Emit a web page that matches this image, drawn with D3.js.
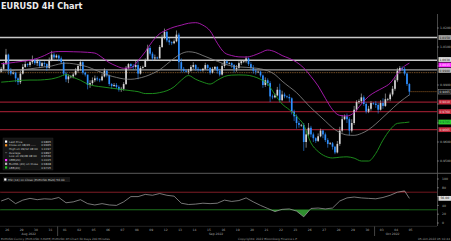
<!DOCTYPE html>
<html>
<head>
<meta charset="utf-8">
<script src="https://cdn.jsdelivr.net/npm/d3@7"></script>
<style>
html, body { margin: 0; padding: 0; background: #000; }
svg { display: block; font-family: "DejaVu Sans", sans-serif; }
</style>
</head>
<body>
<div id="chart"></div>
<script>
// day labels on the time axis, one per trading day
const dayLabels = ["26","29","30","31","01","02","05","06","07","08","09","12","13","14","15","16",
  "19","20","21","22","23","26","27","28","29","30","03","04","05"];
const months = ["Aug 2022", "Sep 2022", "Oct 2022"];
const monthFirstDay = [0, 4, 26];

// 4H candles, open of each bar is previous close
const firstOpen = 0.9970;
const closes = [
  0.9985,1.0010,1.0060,0.9975,0.9960,0.9965, 0.9935,0.9915,0.9960,0.9995,1.0010,1.0005,
  1.0020,1.0030,1.0015,1.0025,1.0000,1.0015, 1.0010,0.9990,1.0030,1.0060,1.0045,1.0055,
  1.0040,1.0020,0.9960,0.9930,0.9945,0.9945, 0.9955,0.9975,1.0000,1.0020,0.9965,0.9955,
  0.9900,0.9910,0.9925,0.9935,0.9930,0.9925, 0.9945,0.9975,0.9950,0.9905,0.9895,0.9900,
  0.9890,0.9875,0.9880,0.9905,0.9990,1.0010, 1.0000,0.9995,1.0005,0.9960,0.9990,0.9995,
  1.0030,1.0095,1.0065,1.0040,1.0045,1.0040, 1.0100,1.0150,1.0180,1.0135,1.0125,1.0120,
  1.0130,1.0165,1.0020,0.9985,0.9975,0.9970, 0.9975,0.9995,1.0005,0.9985,0.9980,0.9978,
  0.9985,1.0005,0.9990,0.9965,0.9985,0.9995, 0.9975,0.9955,1.0000,1.0025,1.0015,1.0015,
  1.0005,0.9985,0.9990,1.0015,1.0025,1.0025, 1.0040,1.0010,0.9990,0.9975,0.9970,0.9970,
  0.9950,0.9900,0.9925,0.9910,0.9840,0.9835, 0.9845,0.9875,0.9820,0.9850,0.9840,0.9837,
  0.9830,0.9760,0.9735,0.9700,0.9690,0.9690, 0.9600,0.9640,0.9675,0.9640,0.9620,0.9606,
  0.9630,0.9660,0.9640,0.9610,0.9590,0.9593, 0.9575,0.9545,0.9590,0.9660,0.9720,0.9735,
  0.9720,0.9660,0.9700,0.9770,0.9810,0.9815, 0.9835,0.9800,0.9760,0.9775,0.9805,0.9802,
  0.9795,0.9770,0.9805,0.9790,0.9825,0.9825, 0.9850,0.9880,0.9925,0.9975,0.9990,0.9985,
  0.9960,0.9905,0.9865
];
const highs = [
  0.9995,1.0020,1.0090,1.0065,0.9990,0.9972, 0.9970,0.9940,0.9975,1.0010,1.0030,1.0015,
  1.0030,1.0055,1.0040,1.0035,1.0030,1.0022, 1.0025,1.0015,1.0045,1.0080,1.0070,1.0062,
  1.0060,1.0050,1.0025,0.9970,0.9955,0.9952, 0.9965,0.9990,1.0010,1.0033,1.0025,0.9970,
  0.9935,0.9925,0.9940,0.9950,0.9945,0.9935, 0.9960,0.9988,0.9980,0.9955,0.9910,0.9910,
  0.9910,0.9898,0.9890,0.9915,1.0000,1.0015, 1.0015,1.0010,1.0030,1.0029,1.0000,1.0002,
  1.0040,1.0112,1.0105,1.0075,1.0060,1.0050, 1.0110,1.0165,1.0197,1.0185,1.0150,1.0130,
  1.0140,1.0187,1.0175,1.0040,0.9995,0.9980, 0.9985,1.0005,1.0020,1.0010,0.9995,0.9985,
  0.9990,1.0017,1.0010,0.9995,0.9995,1.0000, 1.0000,0.9985,1.0015,1.0036,1.0030,1.0020,
  1.0020,1.0010,1.0005,1.0025,1.0029,1.0028, 1.0051,1.0045,1.0020,1.0005,0.9985,0.9975,
  0.9975,0.9955,0.9940,0.9935,0.9920,0.9850, 0.9855,0.9890,0.9907,0.9870,0.9860,0.9845,
  0.9852,0.9835,0.9770,0.9745,0.9712,0.9695, 0.9700,0.9660,0.9700,0.9685,0.9650,0.9625,
  0.9645,0.9670,0.9665,0.9650,0.9620,0.9600, 0.9600,0.9580,0.9605,0.9680,0.9740,0.9745,
  0.9750,0.9730,0.9720,0.9790,0.9820,0.9825, 0.9855,0.9845,0.9810,0.9790,0.9815,0.9810,
  0.9815,0.9805,0.9820,0.9830,0.9855,0.9832, 0.9860,0.9895,0.9940,0.9990,1.0000,0.9998,
  0.9995,0.9965,0.9910
];
const lows = [
  0.9965,0.9980,1.0005,0.9955,0.9950,0.9955, 0.9915,0.9900,0.9905,0.9955,0.9990,0.9995,
  0.9995,1.0010,1.0005,1.0000,0.9990,0.9995, 0.9995,0.9975,0.9985,1.0025,1.0035,1.0040,
  1.0025,1.0010,0.9950,0.9915,0.9910,0.9935, 0.9935,0.9950,0.9965,0.9975,0.9955,0.9945,
  0.9877,0.9885,0.9900,0.9915,0.9920,0.9915, 0.9920,0.9940,0.9940,0.9895,0.9880,0.9890,
  0.9880,0.9865,0.9864,0.9870,0.9900,0.9985, 0.9990,0.9980,0.9985,0.9930,0.9955,0.9985,
  0.9995,1.0025,1.0055,1.0030,1.0030,1.0035, 1.0040,1.0095,1.0140,1.0125,1.0110,1.0110,
  1.0115,1.0125,0.9985,0.9966,0.9966,0.9965, 0.9956,0.9970,0.9985,0.9975,0.9970,0.9972,
  0.9970,0.9980,0.9975,0.9955,0.9960,0.9980, 0.9960,0.9945,0.9950,0.9990,1.0005,1.0008,
  0.9990,0.9966,0.9970,0.9985,1.0005,1.0015, 1.0015,1.0000,0.9980,0.9960,0.9955,0.9965,
  0.9940,0.9885,0.9890,0.9895,0.9810,0.9825, 0.9830,0.9840,0.9808,0.9815,0.9830,0.9830,
  0.9810,0.9745,0.9710,0.9670,0.9675,0.9680, 0.9553,0.9570,0.9630,0.9625,0.9600,0.9595,
  0.9600,0.9625,0.9620,0.9600,0.9570,0.9585, 0.9560,0.9536,0.9540,0.9580,0.9650,0.9715,
  0.9700,0.9635,0.9650,0.9690,0.9760,0.9800, 0.9805,0.9790,0.9750,0.9752,0.9765,0.9795,
  0.9780,0.9750,0.9765,0.9775,0.9785,0.9815, 0.9815,0.9840,0.9870,0.9915,0.9960,0.9975,
  0.9950,0.9895,0.9845
];

// studies, read every 3 bars (last one at the final bar)
const ubb = [
  1.0012,1.0015,1.0020,1.0025,1.0030,1.0040,1.0055,1.0072,1.0076,1.0076,
  1.0075,1.0074,1.0072,1.0068,1.0045,1.0018,1.0000,0.9988,0.9990,1.0028,
  1.0075,1.0130,1.0170,1.0190,1.0205,1.0215,1.0225,1.0228,1.0215,1.0185,
  1.0120,1.0070,1.0055,1.0048,1.0047,1.0055,1.0070,1.0084,1.0075,1.0055,
  1.0040,1.0020,0.9990,0.9945,0.9895,0.9830,0.9770,0.9740,0.9737,0.9755,
  0.9800,0.9840,0.9865,0.9885,0.9910,0.9960,1.0000,1.0015
];
const bollMa = [
  0.9975,0.9975,0.9978,0.9980,0.9985,0.9990,0.9995,1.0000,1.0010,1.0015,
  1.0012,1.0005,0.9995,0.9980,0.9965,0.9950,0.9940,0.9932,0.9930,0.9935,
  0.9945,0.9960,0.9980,1.0010,1.0040,1.0065,1.0075,1.0070,1.0055,1.0040,
  1.0025,1.0010,1.0000,0.9995,0.9993,0.9990,0.9985,0.9975,0.9955,0.9920,
  0.9890,0.9860,0.9820,0.9780,0.9745,0.9710,0.9675,0.9650,0.9637,0.9635,
  0.9645,0.9665,0.9695,0.9730,0.9765,0.9800,0.9830,0.9848
];
const lbb = [
  0.9915,0.9918,0.9922,0.9925,0.9926,0.9926,0.9928,0.9932,0.9942,0.9955,
  0.9940,0.9925,0.9905,0.9895,0.9890,0.9885,0.9880,0.9875,0.9870,0.9865,
  0.9855,0.9855,0.9860,0.9870,0.9890,0.9925,0.9950,0.9930,0.9915,0.9905,
  0.9925,0.9945,0.9952,0.9953,0.9952,0.9945,0.9930,0.9905,0.9850,0.9800,
  0.9770,0.9735,0.9690,0.9595,0.9550,0.9525,0.9516,0.9520,0.9522,0.9515,
  0.9500,0.9500,0.9540,0.9610,0.9665,0.9698,0.9702,0.9705
];
const rsi = [
  50,56,44,52,56,53,55,54,58,46,
  48,53,44,41,44,41,40,48,60,60,
  65,63,67,63,61,45,42,43,45,44,
  45,52,49,51,57,48,40,33,26,31,
  32,27,14,33,34,32,34,50,57,59,
  57,56,55,58,63,70,73,56
];

const resistance = [1.0150, 1.0030, 0.9980];
const support = [0.9810, 0.9760, 0.9665];
const closeRef = 0.9965;
const priceTicks = [0.95, 0.96, 0.97, 0.98, 0.99, 1.00, 1.01, 1.02];
const rsiTicks = [0, 20, 40, 60, 80, 100];

const legendLabels = ["Last Price", "Close on 08/26 -----", "High on 09/12 08:00", "Average",
  "Low on 09/28 08:00", "UBB(20)", "BollMA (20) on Close", "LBB(20)"];
const legendValues = ["0.9865", "0.9965", "1.0197", "0.9897", "0.9536", "1.0015", "0.9848", "0.9705"];
const legendColors = ["#ffffff", "#f08c1e", null, null, null, "#ff33ff", "#bbbbbb", "#22cc22"];

const width = 451, height = 241, plotRight = 437;

const svg = d3.select("#chart").append("svg")
  .attr("width", width).attr("height", height)
  .style("background", "#000");

const x = d3.scaleLinear().domain([0, 182]).range([0, plotRight]);
const y = d3.scaleLinear().domain([0.95, 1.02]).range([161, 28]);
const yR = d3.scaleLinear().domain([0, 100]).range([223, 179]);
const bw = x(1) - x(0);

const sampleBars = d3.range(0, 169, 3).concat([closes.length - 1]);
const last = closes[closes.length - 1];
const rsiLast = rsi[rsi.length - 1];

// title
svg.append("text").attr("x", 1).attr("y", 9.3)
  .attr("fill", "#ececec").attr("font-weight", "bold").attr("font-size", 8.2)
  .text("EURUSD 4H Chart");

// frame lines
svg.append("line").attr("x1", plotRight + 0.5).attr("x2", plotRight + 0.5)
  .attr("y1", 14).attr("y2", 226).attr("stroke", "#777").attr("stroke-width", 0.6);
svg.append("line").attr("x1", 0).attr("x2", width).attr("y1", 173.3).attr("y2", 173.3)
  .attr("stroke", "#5a5a5a").attr("stroke-width", 1);
svg.append("line").attr("x1", 0).attr("x2", plotRight).attr("y1", 226.3).attr("y2", 226.3)
  .attr("stroke", "#444").attr("stroke-width", 0.5);

// level lines
const lvl = svg.append("g");
lvl.selectAll(".res").data(resistance).enter().append("line")
  .attr("x1", 0).attr("x2", plotRight)
  .attr("y1", d => y(d)).attr("y2", d => y(d))
  .attr("stroke", (d, i) => i === 2 ? "#9a9a9a" : "#c8c8c8")
  .attr("stroke-width", (d, i) => i === 2 ? 1.2 : 1.5);
lvl.append("line").attr("x1", 0).attr("x2", plotRight)
  .attr("y1", y(closeRef)).attr("y2", y(closeRef))
  .attr("stroke", "#7a5228").attr("stroke-width", 0.9).attr("stroke-dasharray", "1.5,0.8");
lvl.selectAll(".sup").data(support).enter().append("line")
  .attr("x1", 0).attr("x2", plotRight)
  .attr("y1", d => y(d)).attr("y2", d => y(d))
  .attr("stroke", "#8e1b2c").attr("stroke-width", 1.4);

// candles
const bars = closes.map((c, i) => ({ i, o: i ? closes[i - 1] : firstOpen, h: highs[i], l: lows[i], c }));
const cg = svg.append("g");
cg.selectAll(".wick").data(bars).enter().append("line")
  .attr("x1", d => x(d.i + 0.5)).attr("x2", d => x(d.i + 0.5))
  .attr("y1", d => y(d.h)).attr("y2", d => y(d.l))
  .attr("stroke", d => d.c >= d.o ? "#c8c8c8" : "#2e8fff").attr("stroke-width", 0.6);
cg.selectAll(".body").data(bars).enter().append("rect")
  .attr("x", d => x(d.i) + bw * 0.15).attr("width", bw * 0.7)
  .attr("y", d => y(Math.max(d.o, d.c)))
  .attr("height", d => Math.max(0.7, Math.abs(y(d.o) - y(d.c))))
  .attr("fill", d => d.c >= d.o ? "#d4d4d4" : "#2e8fff");

// bollinger
const band = arr => d3.line()
  .x((d, k) => x(sampleBars[k] + 0.5)).y(d => y(d))
  .curve(d3.curveMonotoneX)(arr);
svg.append("path").attr("d", band(bollMa)).attr("fill", "none").attr("stroke", "#8c8c8c").attr("stroke-width", 0.8);
svg.append("path").attr("d", band(ubb)).attr("fill", "none").attr("stroke", "#b21cb8").attr("stroke-width", 0.9);
svg.append("path").attr("d", band(lbb)).attr("fill", "none").attr("stroke", "#1f9a1f").attr("stroke-width", 0.9);

// last price dotted line
svg.append("line").attr("x1", x(closes.length)).attr("x2", plotRight)
  .attr("y1", y(last)).attr("y2", y(last))
  .attr("stroke", "#b8742c").attr("stroke-width", 0.8).attr("stroke-dasharray", "1,1");

// value boxes on the axis
const boxes = [
  { v: resistance[0], fill: "#a0a0a0", tc: "#111", yy: y(resistance[0]) },
  { v: resistance[1], fill: "#dedede", tc: "#111", yy: y(resistance[1]) - 0.8 },
  { v: ubb[ubb.length - 1], fill: "#ff2cff", tc: "#fff", yy: y(ubb[ubb.length - 1]) + 1.8 },
  { v: resistance[2], fill: "#bdbdbd", tc: "#111", yy: y(resistance[2]) + 0.6 },
  { v: last, fill: "#161616", tc: "#ddd", yy: y(last), stroke: "#aaa" },
  { v: support[0], fill: "#c0283a", tc: "#f4d0d4", yy: y(support[0]) },
  { v: support[1], fill: "#c0283a", tc: "#f4d0d4", yy: y(support[1]) },
  { v: lbb[lbb.length - 1], fill: "#2ecc2e", tc: "#063", yy: y(lbb[lbb.length - 1]) },
  { v: support[2], fill: "#c0283a", tc: "#f4d0d4", yy: y(support[2]) }
];
const boxYs = boxes.map(b => b.yy).concat([yR(rsiLast)]);
const freeSpot = yy => boxYs.every(b => Math.abs(b - yy) > 4.6);

// price axis, labels hidden where a value box sits on them
const ax = svg.append("g").attr("font-size", 3.1).attr("fill", "#a8a8a8");
priceTicks.forEach(t => {
  ax.append("line").attr("x1", plotRight).attr("x2", plotRight + 2)
    .attr("y1", y(t)).attr("y2", y(t)).attr("stroke", "#aaa").attr("stroke-width", 0.5);
  if (freeSpot(y(t))) ax.append("text").attr("x", plotRight + 3).attr("y", y(t) + 1.1).text(d3.format(".4f")(t));
});
rsiTicks.forEach(t => {
  ax.append("line").attr("x1", plotRight).attr("x2", plotRight + 2)
    .attr("y1", yR(t)).attr("y2", yR(t)).attr("stroke", "#aaa").attr("stroke-width", 0.5);
  if (freeSpot(yR(t))) ax.append("text").attr("x", plotRight + 5).attr("y", yR(t) + 1.1).text(t);
});

const bg = svg.append("g");
boxes.forEach(b => {
  bg.append("rect").attr("x", plotRight + 1.5).attr("y", b.yy - 2.4).attr("width", 12.5).attr("height", 4.8)
    .attr("fill", b.fill).attr("stroke", b.stroke || "none").attr("stroke-width", 0.4);
  bg.append("text").attr("x", plotRight + 7.75).attr("y", b.yy + 1.1).attr("text-anchor", "middle")
    .attr("font-size", 3).attr("fill", b.tc).text(d3.format(".4f")(b.v));
});

// legend
const lg = svg.append("g");
lg.append("rect").attr("x", 3).attr("y", 138).attr("width", 50).attr("height", 32)
  .attr("fill", "#151515").attr("stroke", "#2a2a2a").attr("stroke-width", 0.4);
legendLabels.forEach((lab, i) => {
  const yy = 141.6 + i * 3.7;
  if (legendColors[i]) {
    lg.append("rect").attr("x", 5).attr("y", yy - 1.1).attr("width", 2.2).attr("height", 2.2).attr("fill", legendColors[i]);
  } else if (lab === "Average") {
    lg.append("line").attr("x1", 5).attr("x2", 7.2).attr("y1", yy).attr("y2", yy).attr("stroke", "#aaa").attr("stroke-width", 0.4);
  }
  lg.append("text").attr("x", 9).attr("y", yy + 1).attr("font-size", 2.8).attr("fill", "#c8c8c8").text(lab);
  lg.append("text").attr("x", 51).attr("y", yy + 1).attr("font-size", 2.8).attr("fill", "#c8c8c8")
    .attr("text-anchor", "end").text(legendValues[i]);
});

// RSI panel
svg.append("line").attr("x1", 0).attr("x2", plotRight).attr("y1", yR(70)).attr("y2", yR(70))
  .attr("stroke", "#7d1a22").attr("stroke-width", 0.9);
svg.append("line").attr("x1", 0).attr("x2", plotRight).attr("y1", yR(30)).attr("y2", yR(30))
  .attr("stroke", "#1d6e1d").attr("stroke-width", 0.9);

const defs = svg.append("defs");
defs.append("clipPath").attr("id", "above70").append("rect")
  .attr("x", 0).attr("y", 170).attr("width", plotRight).attr("height", yR(70) - 170);
defs.append("clipPath").attr("id", "below30").append("rect")
  .attr("x", 0).attr("y", yR(30)).attr("width", plotRight).attr("height", 226 - yR(30));

const rx = (d, k) => x(sampleBars[k] + 0.5);
svg.append("path").attr("clip-path", "url(#above70)")
  .attr("d", d3.area().x(rx).y0(yR(70)).y1(d => yR(d))(rsi)).attr("fill", "#a0303a");
svg.append("path").attr("clip-path", "url(#below30)")
  .attr("d", d3.area().x(rx).y0(yR(30)).y1(d => yR(d))(rsi)).attr("fill", "#2f8f2f");
svg.append("path").attr("d", d3.line().x(rx).y(d => yR(d))(rsi))
  .attr("fill", "none").attr("stroke", "#a8a8a8").attr("stroke-width", 0.7);

svg.append("rect").attr("x", plotRight + 1.5).attr("y", yR(rsiLast) - 2.4).attr("width", 12.5).attr("height", 4.8)
  .attr("fill", "#dcdcdc");
svg.append("text").attr("x", plotRight + 7.75).attr("y", yR(rsiLast) + 1.1).attr("text-anchor", "middle")
  .attr("font-size", 3).attr("fill", "#111").text(d3.format(".2f")(rsiLast));

svg.append("rect").attr("x", 3).attr("y", 177).attr("width", 67).attr("height", 5).attr("fill", "#151515");
svg.append("rect").attr("x", 4.2).attr("y", 178.4).attr("width", 2.2).attr("height", 2.2).attr("fill", "#fff");
svg.append("text").attr("x", 8).attr("y", 180.6).attr("font-size", 2.9).attr("fill", "#c8c8c8")
  .text("RSI (14) on Close (EURUSD BGN) " + d3.format(".2f")(rsiLast));

// time axis
const tg = svg.append("g").attr("font-size", 3).attr("fill", "#a8a8a8").attr("text-anchor", "middle");
dayLabels.forEach((lab, i) => {
  tg.append("text").attr("x", x(i * 6 + 3)).attr("y", 230.8).text(lab);
});
months.forEach((m, i) => {
  const a = monthFirstDay[i] * 6;
  const b = i < months.length - 1 ? monthFirstDay[i + 1] * 6 : closes.length;
  tg.append("text").attr("x", x((a + b) / 2)).attr("y", 235.3).text(m);
  if (i > 0) {
    svg.append("line").attr("x1", x(a)).attr("x2", x(a)).attr("y1", 226.5).attr("y2", 236)
      .attr("stroke", "#888").attr("stroke-width", 0.5);
  }
});

// footer
const ft = svg.append("g").attr("font-size", 2.9).attr("fill", "#9a9a9a");
ft.append("text").attr("x", 1).attr("y", 239.8)
  .text("EURUSD Curncy (EUR-USD X-RATE) EURUSD 4H Chart 30 Days 240 Minutes");
ft.append("text").attr("x", 238).attr("y", 239.8).text("Copyright\u00a9 2022 Bloomberg Finance L.P.");
ft.append("text").attr("x", 450).attr("y", 239.8).attr("text-anchor", "end").text("05-Oct-2022 05:10:44");
</script>
</body>
</html>
